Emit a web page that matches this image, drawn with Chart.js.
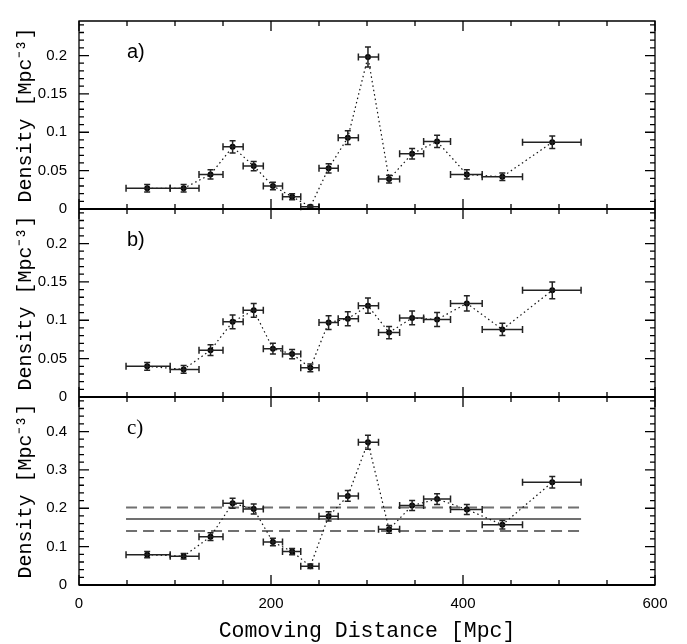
<!DOCTYPE html>
<html>
<head>
<meta charset="utf-8">
<script src="https://cdn.jsdelivr.net/npm/chart.js@4.4.1/dist/chart.umd.min.js"></script>
<style>
  html, body { margin: 0; padding: 0; background: #fff; }
  #wrap { width: 687px; height: 644px; }
</style>
</head>
<body>
<div id="wrap"><canvas id="chart" width="687" height="644"></canvas></div>
<script>
// bins in comoving distance (Mpc)
const distance = [71, 109, 137, 160, 182, 202, 222, 241, 260, 280, 301, 323, 347, 373, 404, 441, 493];
const binLo = [49, 95, 125, 150, 171, 192, 212, 231, 250, 270, 291, 312, 334, 359, 387, 420, 462];
const binHi = [95, 125, 150, 171, 192, 212, 231, 250, 270, 291, 312, 334, 359, 387, 420, 462, 523];

// panel a
const densityA = [0.027, 0.027, 0.045, 0.081, 0.056, 0.030, 0.016, 0.003, 0.053, 0.093, 0.198, 0.039, 0.072, 0.088, 0.045, 0.042, 0.087];
const errA = [0.005, 0.005, 0.006, 0.008, 0.006, 0.005, 0.004, 0.002, 0.006, 0.009, 0.013, 0.005, 0.007, 0.008, 0.006, 0.005, 0.008];
// panel b
const densityB = [0.040, 0.036, 0.061, 0.098, 0.113, 0.063, 0.056, 0.038, 0.097, 0.102, 0.119, 0.084, 0.103, 0.101, 0.122, 0.088, 0.139];
const errB = [0.005, 0.005, 0.007, 0.009, 0.009, 0.007, 0.006, 0.005, 0.009, 0.009, 0.010, 0.008, 0.009, 0.009, 0.010, 0.008, 0.011];
// panel c
const densityC = [0.079, 0.075, 0.126, 0.213, 0.198, 0.112, 0.087, 0.049, 0.179, 0.232, 0.372, 0.145, 0.207, 0.224, 0.197, 0.157, 0.268];
const errC = [0.008, 0.007, 0.010, 0.013, 0.013, 0.010, 0.008, 0.006, 0.012, 0.014, 0.018, 0.010, 0.013, 0.014, 0.013, 0.011, 0.015];
const meanC = 0.172;
const bandC = [0.141, 0.202];
const levelRange = [49, 523];

const xTicks = [0, 200, 400, 600];
const panelLabels = ['a)', 'b)', 'c)'];

const panels = [
  { axis: 'yA', values: densityA, errs: errA, label: panelLabels[0], minor: 0.01, major: 0.05 },
  { axis: 'yB', values: densityB, errs: errB, label: panelLabels[1], minor: 0.01, major: 0.05 },
  { axis: 'yC', values: densityC, errs: errC, label: panelLabels[2], minor: 0.02, major: 0.1 }
];

const pts = vals => distance.map((d, i) => ({ x: d, y: vals[i] }));
const flat = v => levelRange.map(x => ({ x: x, y: v }));
const fmt = v => String(+v.toFixed(3));

const seriesStyle = {
  showLine: true,
  borderColor: '#111',
  borderWidth: 1.2,
  borderDash: [1.5, 3],
  pointRadius: 3,
  pointBackgroundColor: '#000',
  pointBorderColor: '#000',
  pointBorderWidth: 0
};
const levelStyle = { showLine: true, pointRadius: 0, borderColor: '#707070', borderWidth: 2, yAxisID: 'yC' };

function yAxis(max, step) {
  return {
    type: 'linear', position: 'left', stack: 'panels', stackWeight: 1,
    min: 0, max: max,
    grid: { display: false, drawTicks: false }, border: { display: false },
    ticks: { stepSize: step, includeBounds: false, padding: 12, color: '#000',
             font: { family: 'Liberation Sans', size: 15 }, callback: fmt },
    title: { display: true, text: 'Density [Mpc\u207B\u00B3]', color: '#000',
             font: { family: 'Liberation Mono', size: 20 }, padding: { top: 14, bottom: 0 } },
    afterFit: s => { s.width = 79; }
  };
}

const decor = {
  id: 'decor',
  afterDatasetsDraw(chart) {
    const ctx = chart.ctx;
    const xs = chart.scales.x;
    ctx.save();
    ctx.strokeStyle = '#222';
    ctx.lineWidth = 1.5;
    panels.forEach(p => {
      const ys = chart.scales[p.axis];
      p.values.forEach((v, i) => {
        const px = xs.getPixelForValue(distance[i]);
        const py = ys.getPixelForValue(v);
        const x0 = xs.getPixelForValue(binLo[i]), x1 = xs.getPixelForValue(binHi[i]);
        const y0 = ys.getPixelForValue(v - p.errs[i]), y1 = ys.getPixelForValue(v + p.errs[i]);
        ctx.beginPath();
        ctx.moveTo(x0, py); ctx.lineTo(x1, py);
        ctx.moveTo(x0, py - 3.5); ctx.lineTo(x0, py + 3.5);
        ctx.moveTo(x1, py - 3.5); ctx.lineTo(x1, py + 3.5);
        ctx.moveTo(px, y0); ctx.lineTo(px, y1);
        ctx.moveTo(px - 3, y0); ctx.lineTo(px + 3, y0);
        ctx.moveTo(px - 3, y1); ctx.lineTo(px + 3, y1);
        ctx.stroke();
      });
    });
    ctx.restore();
  },
  afterDraw(chart) {
    const ctx = chart.ctx;
    const xs = chart.scales.x;
    const area = chart.chartArea;
    ctx.save();
    ctx.strokeStyle = '#000';
    ctx.lineWidth = 1.3;
    ctx.beginPath();
    ctx.rect(area.left, area.top, area.right - area.left, area.bottom - area.top);
    ctx.stroke();
    panels.forEach(p => {
      const ys = chart.scales[p.axis];
      // panel bottom line (zero)
      ctx.lineWidth = 2;
      ctx.beginPath();
      ctx.moveTo(area.left, ys.bottom); ctx.lineTo(area.right, ys.bottom);
      ctx.stroke();
      ctx.lineWidth = 1.3;
      ctx.beginPath();
      // x ticks, top and bottom of each panel
      for (let v = 0; v <= 600; v += 50) {
        const px = xs.getPixelForValue(v);
        const len = v % 200 === 0 ? 10 : 5;
        ctx.moveTo(px, ys.top); ctx.lineTo(px, ys.top + len);
        ctx.moveTo(px, ys.bottom); ctx.lineTo(px, ys.bottom - len);
      }
      // y ticks, left and right
      const n = Math.floor(ys.max / p.minor + 1e-6);
      for (let k = 0; k <= n; k++) {
        const v = k * p.minor;
        const py = ys.getPixelForValue(v);
        const r = v / p.major;
        const len = Math.abs(r - Math.round(r)) < 1e-6 ? 10 : 5;
        ctx.moveTo(area.left, py); ctx.lineTo(area.left + len, py);
        ctx.moveTo(area.right, py); ctx.lineTo(area.right - len, py);
      }
      ctx.stroke();
      ctx.fillStyle = '#000';
      ctx.textBaseline = 'middle';
      ctx.textAlign = 'left';
      ctx.font = p.axis === 'yC' ? '21px "Liberation Serif"' : '20px "Liberation Sans"';
      ctx.fillText(p.label, area.left + 48, ys.top + 31);
    });
    ctx.restore();
  }
};

new Chart(document.getElementById('chart'), {
  type: 'scatter',
  data: {
    datasets: [
      Object.assign({ data: pts(densityA), yAxisID: 'yA' }, seriesStyle),
      Object.assign({ data: pts(densityB), yAxisID: 'yB' }, seriesStyle),
      Object.assign({ data: pts(densityC), yAxisID: 'yC' }, seriesStyle),
      Object.assign({ data: flat(meanC) }, levelStyle),
      Object.assign({ data: flat(bandC[0]), borderDash: [11, 6] }, levelStyle),
      Object.assign({ data: flat(bandC[1]), borderDash: [11, 6] }, levelStyle)
    ]
  },
  options: {
    responsive: false,
    animation: false,
    devicePixelRatio: 1,
    layout: { padding: { top: 7, right: 32, left: 0, bottom: 0 } },
    plugins: { legend: { display: false }, tooltip: { enabled: false } },
    scales: {
      x: {
        type: 'linear', position: 'bottom', min: 0, max: 600,
        grid: { display: false, drawTicks: false }, border: { display: false },
        afterBuildTicks: s => { s.ticks = xTicks.map(v => ({ value: v })); },
        ticks: { padding: 10, color: '#000', font: { family: 'Liberation Sans', size: 15 } },
        title: { display: true, text: 'Comoving Distance [Mpc]', color: '#000',
                 font: { family: 'Liberation Mono', size: 21.5 }, padding: { top: 0, bottom: 0 } },
        afterFit: s => { s.height = 59; }
      },
      yC: yAxis(0.49, 0.1),
      yB: yAxis(0.245, 0.05),
      yA: yAxis(0.245, 0.05)
    }
  },
  plugins: [decor]
});
</script>
</body>
</html>
